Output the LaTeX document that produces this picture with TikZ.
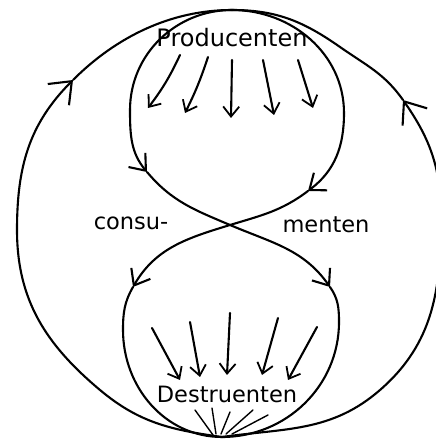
\documentclass[tikz,border=0pt]{standalone}
\usepackage{fontspec}
\setmainfont{DejaVu Sans}
\usetikzlibrary{arrows.meta}
\begin{document}
\begin{tikzpicture}[x=1pt,y=1pt,line width=2.1pt,line cap=round,line join=round,
  bigtip/.style={-{Straight Barb[length=19pt,width=30pt,line width=2.1pt]}},
  midtip/.style={-{Straight Barb[length=14pt,width=22pt,line width=2.1pt]}},
  smalltip/.style={-{Straight Barb[length=10pt,width=16pt,line width=1.8pt]}},
  ray/.style={line width=1.4pt},
  lbl/.style={font=\fontsize{22.5}{24}\selectfont,anchor=base,inner sep=0pt}]
\useasboundingbox (0,0) rectangle (436,439);
\fill[white] (0,0) rectangle (436,439);
% key points
\coordinate (T) at (232,429);
\coordinate (B) at (222,2);
\coordinate (X) at (230,214);
% outer loop, left half
\coordinate (P1) at (100,49);
\coordinate (P3) at (17,209);
\coordinate (AL) at (73,359);
\draw[bigtip] (B) to[out=172,in=-40] (P1) to[out=140,in=-90] (P3) to[out=90,in=225] (AL);
\draw (AL) to[out=45,in=180,looseness=0.9] (T);
% outer loop, right half
\coordinate (Q1) at (380,49);
\coordinate (Q2) at (441,222);
\coordinate (AR) at (403,339);
\coordinate (Q3) at (340,392);
\draw[bigtip] (B) to[out=8,in=221] (Q1) to[out=41,in=-90] (Q2) to[out=90,in=-55] (AR);
\draw (AR) to[out=125,in=-35] (Q3) to[out=145,in=0] (T);
% figure eight, path via upper-left
\coordinate (L1) at (130,329);
\coordinate (AUL) at (147,267);
\coordinate (ALR) at (330,152);
\coordinate (R2) at (339,117);
\draw (T) to[out=180,in=90] (L1);
\draw[midtip] (L1) to[out=270,in=130] (AUL);
\draw (AUL) to[out=-50,in=157] (X);
\draw[midtip] (X) to[out=-23,in=125] (ALR);
\draw (ALR) to[out=-55,in=90] (R2) to[out=270,in=0] (B);
% figure eight, path via upper-right
\coordinate (R1) at (344,326);
\coordinate (AUR) at (308,248);
\coordinate (ALL) at (133,152);
\coordinate (L2) at (123,109);
\draw (T) to[out=0,in=90] (R1);
\draw[midtip] (R1) to[out=270,in=37] (AUR);
\draw (AUR) to[out=217,in=17] (X);
\draw[midtip] (X) to[out=197,in=60] (ALL);
\draw (ALL) to[out=240,in=90] (L2) to[out=270,in=180] (B);
% labels
\node[lbl,font=\fontsize{24}{26}\selectfont] (prod) at (232,392) {Producenten};
\node[lbl] (destr) at (227,36) {Destruenten};
\node[lbl] (consu) at (131,209) {consu-};
\node[lbl] (ment) at (326,206) {menten};
% arrows below Producenten
\draw[smalltip] (180,384) to[bend left=6] (148,331);
\draw[smalltip] (208,382) to[bend left=4] (185,326);
\draw[smalltip] (232,379) -- (231,321);
\draw[smalltip] (263,379) -- (274,324);
\draw[smalltip] (298,379) -- (313,331);
% arrows above Destruenten
\draw[smalltip] (152,111) -- (180,59);
\draw[smalltip] (190,117) -- (200,62);
\draw[smalltip] (230,126) -- (227,64);
\draw[smalltip] (278,121) -- (262,64);
\draw[smalltip] (317,112) -- (288,59);
% rays at the bottom
\draw[ray] (195,29) -- (213,4);
\draw[ray] (212,31) -- (216,5);
\draw[ray] (230,27) -- (221,5);
\draw[ray] (253,29) -- (226,5);
\draw[ray] (268,24) -- (232,5);
\end{tikzpicture}
\end{document}
